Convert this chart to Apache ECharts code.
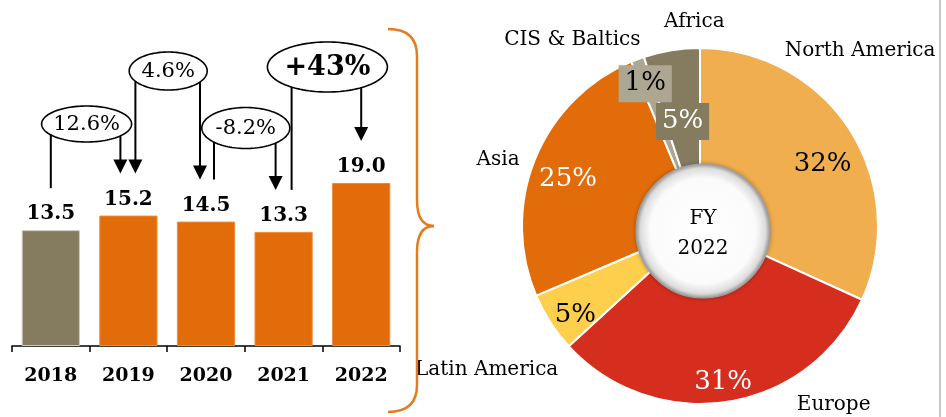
<!DOCTYPE html>
<html><head><meta charset="utf-8">
<script src="https://cdn.jsdelivr.net/npm/echarts@6/dist/echarts.min.js"></script>
<style>html,body{margin:0;padding:0;background:#fff}#c{width:946px;height:417px}</style>
</head><body><div id="c"></div>
<script>
// ---- data ----
const years = ['2018', '2019', '2020', '2021', '2022'];
const revenue = [13.5, 15.2, 14.5, 13.3, 19.0];
const growthLabels = ['12.6%', '4.6%', '-8.2%', '+43%'];
const growthFrom = ['2018', '2019', '2020', '2021'];
const growthTo = ['2019', '2020', '2021', '2022'];
const regions = ['North America', 'Europe', 'Latin America', 'Asia', 'CIS & Baltics', 'Africa'];
const regionShare = [31.8, 31.4, 5.4, 25.1, 1.2, 5.1];
const centerTitle = ['FY', '2022'];

// ---- styling ----
const serif = '"DejaVu Serif", "Liberation Serif", serif';
const barColors = ['#857C5F', '#E36C0A', '#E36C0A', '#E36C0A', '#E36C0A'];
const barBorders = ['#CFCABD', '#EE8A3A', '#EE8A3A', '#EE8A3A', '#EE8A3A'];
const pieColors = ['#F0AE4F', '#D52E1F', '#FECF4C', '#E36C0A', '#ADA692', '#857C5F'];
const pctColors = ['#000', '#fff', '#000', '#fff', '#000', '#fff'];
const pctBg = [null, null, null, null, '#ADA692', '#857C5F'];
// label nudges (px) relative to the library's default label placement
const pctNudge = [[20, 4], [4, 36], [-22, 23], [-19, -1], [-12, -28], [2, 16]];
const nameNudge = [[-75, -76], [63, -3], [18, 44], [-5, 3], [10, -14], [59, -23]];
const pieCenter = [700, 226];
const pieR = [60, 178];

const chart = echarts.init(document.getElementById('c'));

const option = {
  animation: false,
  grid: { left: 12, right: 546, top: 131.5, bottom: 71 },
  xAxis: {
    type: 'category', data: years,
    axisLine: { lineStyle: { color: '#000', width: 1.5 } },
    axisTick: { show: true, length: 6, lineStyle: { color: '#000', width: 1.5 } },
    axisLabel: { fontFamily: serif, fontWeight: 'bold', fontSize: 19, color: '#000', margin: 21 }
  },
  yAxis: { type: 'value', min: 0, max: 25, show: false, splitLine: { show: false } },
  series: [
    {
      type: 'bar', barCategoryGap: '25%',
      data: revenue.map((v, i) => ({ value: v, itemStyle: { color: barColors[i], borderColor: barBorders[i], borderWidth: 1 } })),
      label: {
        show: true, position: 'top', distance: 6,
        formatter: p => p.value.toFixed(1),
        fontFamily: serif, fontWeight: 'bold', fontSize: 20, color: '#000'
      }
    },
    {
      type: 'pie', center: pieCenter, radius: pieR, startAngle: 90, clockwise: true,
      avoidLabelOverlap: false, silent: true, minShowLabelAngle: 0,
      itemStyle: { borderColor: '#fff', borderWidth: 2 },
      data: regions.map((n, i) => ({
        name: n, value: regionShare[i],
        itemStyle: { color: pieColors[i] },
        label: Object.assign({ color: pctColors[i] },
          pctBg[i] ? { backgroundColor: pctBg[i], padding: [6, 6, 5, 6] } : {})
      })),
      label: {
        show: true, position: 'inside',
        formatter: p => Math.round(p.value) + '%',
        fontFamily: serif, fontSize: 26
      },
      labelLine: { show: false },
      labelLayout: p => ({ dx: pctNudge[p.dataIndex][0], dy: pctNudge[p.dataIndex][1], hideOverlap: false })
    },
    {
      type: 'pie', center: pieCenter, radius: pieR, startAngle: 90, clockwise: true,
      avoidLabelOverlap: false, silent: true, z: 1, minShowLabelAngle: 0,
      itemStyle: { color: 'rgba(0,0,0,0)', borderWidth: 0 },
      data: regions.map((n, i) => ({ name: n, value: regionShare[i] })),
      label: {
        show: true, position: 'outside', formatter: '{b}',
        fontFamily: serif, fontSize: 20, color: '#000'
      },
      labelLine: { show: false, length: 6, length2: 0 },
      labelLayout: p => ({ dx: nameNudge[p.dataIndex][0], dy: nameNudge[p.dataIndex][1], hideOverlap: false })
    }
  ]
};
chart.setOption(option);

// ---- annotations (ovals + arrows), positioned from the bar scale ----
const ann = [
  { cy: 124, rx: 45, ry: 18, cdx: -3, fdx: 0, tdx: -8, fArrow: false, size: 21, bold: false },
  { cy: 71, rx: 39, ry: 19, cdx: 1, fdx: 7, tdx: -6, fArrow: true, size: 21, bold: false },
  { cy: 128, rx: 44, ry: 20.5, cdx: 1, fdx: 8, tdx: -8, fArrow: false, size: 21, bold: false },
  { cy: 67, rx: 60, ry: 25, cdx: 5, fdx: 8, tdx: 0, fArrow: false, size: 27, bold: true }
];
const gap = 42, ah = 14, aw = 7;
const els = [];
growthLabels.forEach((t, i) => {
  const fi = years.indexOf(growthFrom[i]), ti = years.indexOf(growthTo[i]);
  const pf = chart.convertToPixel({ seriesIndex: 0 }, [fi, revenue[fi]]);
  const pt = chart.convertToPixel({ seriesIndex: 0 }, [ti, revenue[ti]]);
  const s = ann[i];
  const cx = (pf[0] + pt[0]) / 2 + s.cdx;
  const pts = [];
  for (let k = 0; k < 120; k++) {
    const a = k / 120 * Math.PI * 2;
    pts.push([cx + s.rx * Math.cos(a), s.cy + s.ry * Math.sin(a)]);
  }
  els.push({ type: 'polygon', z: 100, shape: { points: pts }, style: { fill: '#fff', stroke: '#000', lineWidth: 1.6 } });
  els.push({ type: 'text', z: 101, x: cx, y: s.cy + 1, style: {
    text: t, fill: '#000', fontFamily: serif, fontSize: s.size, fontWeight: s.bold ? 'bold' : 'normal',
    align: 'center', verticalAlign: 'middle', textAlign: 'center', textVerticalAlign: 'middle' } });
  [[pf, s.fdx, s.fArrow], [pt, s.tdx, true]].forEach(([p, dx, arrow]) => {
    const x = p[0] + dx;
    const u = (x - cx) / s.rx;
    const y0 = s.cy + s.ry * Math.sqrt(Math.max(0, 1 - u * u));
    const yEnd = p[1] - gap;
    els.push({ type: 'line', z: 99, shape: { x1: x, y1: y0, x2: x, y2: arrow ? yEnd - ah + 1 : yEnd },
      style: { stroke: '#000', lineWidth: 2 } });
    if (arrow) els.push({ type: 'polygon', z: 99, shape: { points: [[x - aw, yEnd - ah], [x + aw, yEnd - ah], [x, yEnd]] },
      style: { fill: '#000' } });
  });
});

// brace
const bs = { stroke: '#E37B1F', lineWidth: 2.5, fill: null };
const bx = 388, vx = 417, tx = 434, bTop = 29, bMid = 226, bBot = 412;
els.push({ type: 'bezierCurve', z: 50, shape: { x1: bx, y1: bTop, cpx1: vx, cpy1: bTop, x2: vx, y2: bTop + 27 }, style: bs });
els.push({ type: 'line', z: 50, shape: { x1: vx, y1: bTop + 27, x2: vx, y2: bMid - 26 }, style: bs });
els.push({ type: 'bezierCurve', z: 50, shape: { x1: vx, y1: bMid - 26, cpx1: vx, cpy1: bMid, x2: tx, y2: bMid }, style: bs });
els.push({ type: 'bezierCurve', z: 50, shape: { x1: tx, y1: bMid, cpx1: vx, cpy1: bMid, x2: vx, y2: bMid + 26 }, style: bs });
els.push({ type: 'line', z: 50, shape: { x1: vx, y1: bMid + 26, x2: vx, y2: bBot - 27 }, style: bs });
els.push({ type: 'bezierCurve', z: 50, shape: { x1: vx, y1: bBot - 27, cpx1: vx, cpy1: bBot, x2: bx, y2: bBot }, style: bs });

// right frame line
els.push({ type: 'rect', z: 120, shape: { x: 939, y: 0, width: 2, height: 417 }, style: { fill: '#C8C8C8' } });

// centre disc
const dc = [pieCenter[0] + 3, pieCenter[1] + 5];
els.push({ type: 'circle', z: 100, shape: { cx: dc[0], cy: dc[1], r: 67 }, style: {
  fill: { type: 'radial', x: 0.5, y: 0.5, r: 0.5, colorStops: [
    { offset: 0, color: '#ffffff' }, { offset: 0.78, color: '#fbfbfb' },
    { offset: 0.93, color: '#dcdcdc' }, { offset: 1, color: '#9a9a9a' }] },
  stroke: '#A0A0A0', lineWidth: 1.2, shadowBlur: 4, shadowColor: 'rgba(0,0,0,0.25)' } });
els.push({ type: 'text', z: 101, x: dc[0], y: dc[1] - 12, style: { text: centerTitle[0], fill: '#000',
  fontFamily: serif, fontSize: 20, align: 'center', verticalAlign: 'middle', textAlign: 'center', textVerticalAlign: 'middle' } });
els.push({ type: 'text', z: 101, x: dc[0], y: dc[1] + 18, style: { text: centerTitle[1], fill: '#000',
  fontFamily: serif, fontSize: 20, align: 'center', verticalAlign: 'middle', textAlign: 'center', textVerticalAlign: 'middle' } });

// render once more from scratch with the annotations included (label nudges applied once)
chart.clear();
option.graphic = { elements: els };
chart.setOption(option);
</script>
</body></html>
